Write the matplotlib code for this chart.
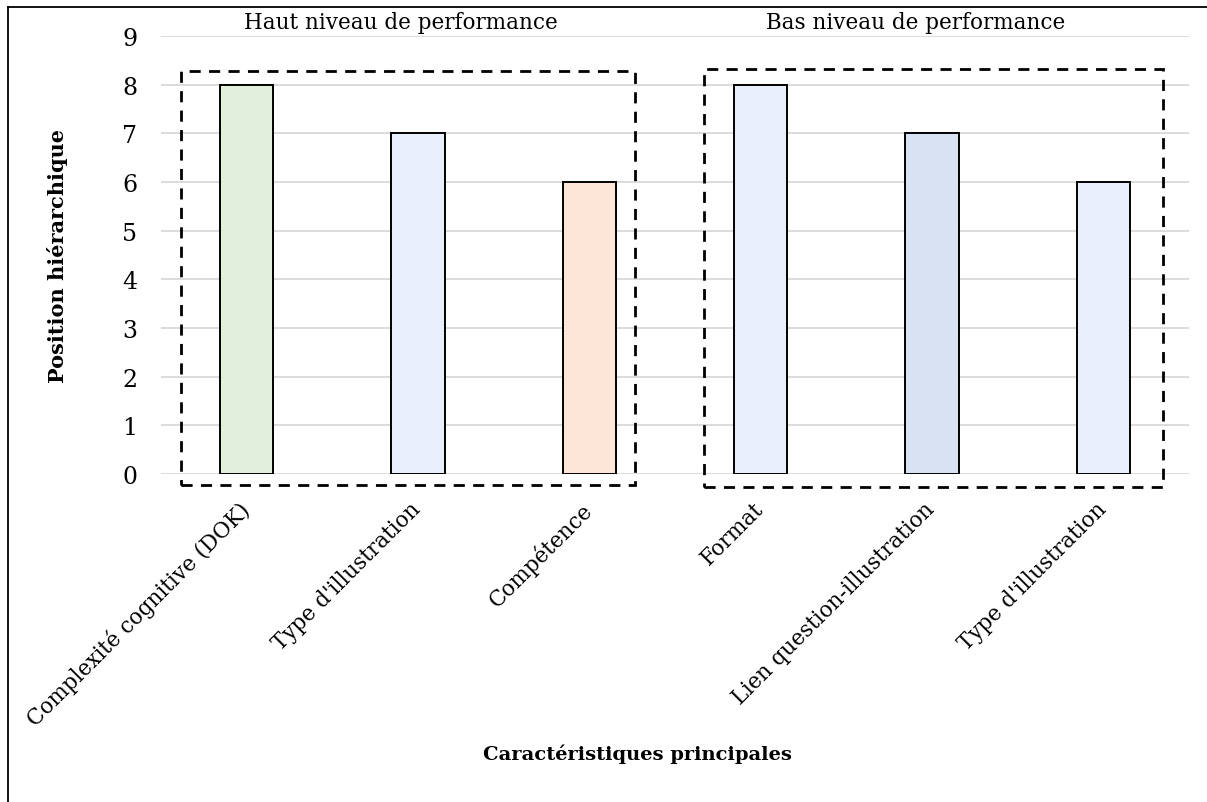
import matplotlib
matplotlib.use("Agg")
import matplotlib.pyplot as plt
import matplotlib.transforms as mtransforms
from matplotlib.patches import Rectangle
from matplotlib.lines import Line2D

# data
categories = ["Complexité cognitive (DOK)", "Type d'illustration", "Compétence",
              "Format", "Lien question-illustration", "Type d'illustration"]
positions = [8, 7, 6, 8, 7, 6]
bar_colors = ["#E2EFDA", "#E9F0FC", "#FDE5D8", "#E9F0FC", "#D9E2F2", "#E9F0FC"]
group_labels = ["Haut niveau de performance", "Bas niveau de performance"]

plt.rcParams['font.family'] = ['DejaVu Serif']

fig = plt.figure(figsize=(12.07, 8.03), dpi=100)
ax = fig.add_axes([161/1207, 1 - 475/803, 1028/1207, 438/803])

x = list(range(len(categories)))
ax.bar(x, positions, width=0.31, color=bar_colors, edgecolor="black", linewidth=1.4, zorder=3)

ax.set_xlim(-0.5, len(categories) - 0.5)
ax.set_ylim(0, 9)
ax.set_yticks(range(0, 10))
ax.yaxis.grid(True, color="#D9D9D9", linewidth=1.3, zorder=0)
ax.set_axisbelow(True)
for s in ax.spines.values():
    s.set_visible(False)
ax.tick_params(axis="y", length=0, pad=17, labelsize=17)
ax.tick_params(axis="x", length=0, pad=17, labelsize=15.5)
ax.set_xticks(x)
ax.set_xticklabels(categories, rotation=45, ha="right", rotation_mode="anchor")
# shift the rotated labels a little to the left
shift = mtransforms.ScaledTranslation(-6/72, 0, fig.dpi_scale_trans)
for lbl in ax.get_xticklabels():
    lbl.set_transform(lbl.get_transform() + shift)

ax.set_ylabel("Position hiérarchique", fontsize=15, fontweight="bold")
ax.yaxis.set_label_coords(-0.090, 0.5)
ax.set_xlabel("Caractéristiques principales", fontsize=14, fontweight="bold")
ax.xaxis.set_label_coords(0.463, -0.615)

# dashed group boxes
for (x0, x1, y0, y1) in [(-0.383, 2.265, -0.23, 8.28), (2.668, 5.346, -0.27, 8.32)]:
    ax.add_patch(Rectangle((x0, y0), x1 - x0, y1 - y0, fill=False, edgecolor="black",
                           linewidth=2, linestyle=(0, (4, 3)), clip_on=False, zorder=4))

ax.text(0.9, 9.06, group_labels[0], ha="center", va="bottom", fontsize=15.5, clip_on=False)
ax.text(3.907, 9.06, group_labels[1], ha="center", va="bottom", fontsize=15.5, clip_on=False)

# outer frame (top and left only)
fig.add_artist(Line2D([8/1207, 1], [1 - 8/803, 1 - 8/803], color="black", linewidth=1.3))
fig.add_artist(Line2D([8/1207, 8/1207], [0, 1 - 8/803], color="black", linewidth=1.3))

fig.savefig("out.png", dpi=100)
